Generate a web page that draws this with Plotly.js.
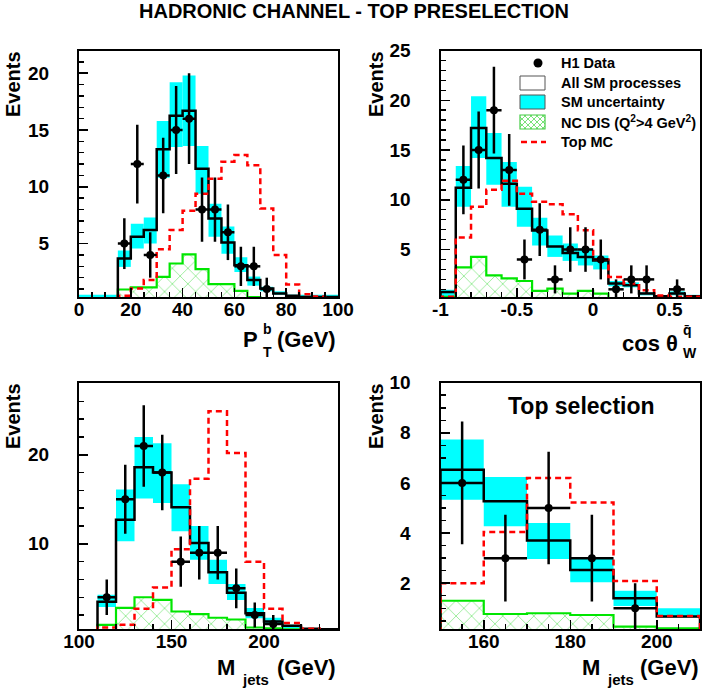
<!DOCTYPE html>
<html>
<head>
<meta charset="utf-8">
<script src="https://cdn.plot.ly/plotly-3.0.1.min.js"></script>
<style>
  body { margin: 0; background: #fff; }
  #plot { width: 708px; height: 694px; }
</style>
</head>
<body>
<div id="plot"></div>
<script>
// ---- panel 1 : P_T^b ----
var edges1 = [0,5,10,15,20,25,30,35,40,45,50,55,60,65,70,75,80,85,90,95,100];
var sm1    = [0,0,0,3.7,5.6,6.2,13.3,16.25,16.7,11.6,7.2,5.1,3.1,1.8,1.05,0.6,0.4,0.3,0.3,0.3];
var hi1    = [0.5,0.5,0.5,4.4,6.75,7.3,15.8,19.2,19.8,13.6,8.5,6.5,3.8,2.1,1.2,0.8,0.5,0.5,0.5,0.5];
var lo1    = [0,0,0,2.95,4.56,5.0,10.8,13.5,13.6,9.4,5.6,4.1,2.5,1.3,0.8,0.5,0.3,0,0,0];
var nc1    = [0,0,0,0.96,1.14,1.14,2.07,3.25,4.06,2.75,1.43,1.43,0.84,0.3,0,0,0,0,0,0];
var top1   = [0,0,0,0.4,1.05,1.8,4.5,6.2,7.9,9.4,10.7,12.2,12.8,11.9,8.1,4.0,1.4,0.55,0.35,0];
var dx1 = [17.5,22.5,27.5,32.5,37.5,42.5,47.5,52.5,57.5,62.5,67.5,72.5];
var dy1 = [5,12,4,11,15,16,8,8,6,3,3,1];
var de1 = [2.24,3.46,2,3.32,3.87,4,2.83,2.83,2.45,1.73,1.73,1];

// ---- panel 2 : cos theta ----
var edges2 = [-1,-0.9,-0.8,-0.7,-0.6,-0.5,-0.4,-0.3,-0.2,-0.1,0,0.1,0.2,0.3,0.4,0.5,0.6,0.7];
var sm2  = [0.74,11.2,17.2,14.2,11.6,9.1,6.9,5.3,4.66,4.26,3.9,1.58,1.4,0.57,0.3,0.57,0.3];
var hi2  = [0.97,13.4,20.4,16.7,13.8,11.3,8.2,6.4,5.6,5.1,4.4,1.84,1.7,0.7,0.4,0.8,0.45];
var lo2  = [0.23,9.3,14.2,11.5,9.3,7.3,5.4,4.26,3.86,3.4,3.0,1.3,1.2,0.4,0.2,0.4,0.2];
var nc2  = [0.25,3.2,4.26,2.4,2.1,1.84,0.84,1.08,0.57,0.84,0.57,0,0,0,0,0,0];
var top2 = [0.25,6.2,9.3,11.0,11.9,10.6,9.8,9.56,8.55,6.94,4.0,2.25,1.58,0.9,0.37,0.25,0.25];
var dx2 = [-0.85,-0.75,-0.65,-0.55,-0.45,-0.35,-0.25,-0.15,-0.05,0.05,0.15,0.25,0.35,0.55];
var dy2 = [12,15,19,13,4,7,2,5,5,4,1,2,2,1];
var de2 = [3.46,3.87,4.36,3.61,2,2.65,1.41,2.24,2.24,2,1,1.41,1.41,1];

// ---- panel 3 : M_jets preselection ----
var edges3 = [110,120,130,140,150,160,170,180,190,200,210,220,230,240];
var sm3  = [3.5,12.7,18.6,18.0,14.1,10.1,6.8,4.5,2.2,1.27,0.8,0.45,0.4];
var hi3  = [4.27,16.1,22.0,21.3,16.7,12.0,8.2,5.5,2.8,1.7,0.9,0.55,0.5];
var lo3  = [2.9,10.3,15.1,14.6,11.4,8.2,5.5,3.7,1.65,0.9,0.5,0.3,0.3];
var nc3  = [0.9,2.8,4.0,3.7,2.4,2.1,1.7,1.5,0.6,0.5,0.4,0,0];
var top3 = [0.6,0.9,2.7,5.1,9.4,17.3,24.9,20.2,8.0,2.7,1.1,0.45,0];
var dx3 = [115,125,135,145,155,165,175,185,195,205];
var dy3 = [4,15,21,18,8,9,9,5,2,1];
var de3 = [2,3.87,4.58,4.24,2.83,3,3,2.24,1.41,1];

// ---- panel 4 : M_jets top selection ----
var edges4 = [150,160,170,180,190,200,210];
var sm4  = [6.53,5.27,3.7,2.53,1.4,0.67];
var hi4  = [7.73,6.24,4.4,3.0,1.7,1.0];
var lo4  = [5.33,4.27,2.97,2.04,1.09,0.63];
var nc4  = [1.3,0.77,0.8,0.73,0.27,0.2];
var top4 = [2.0,4.04,6.2,5.22,2.09,0.69];
var dx4 = [155,165,175,185,195];
var dy4 = [6,3,5,3,1];
var de4 = [2.45,1.73,2.24,1.73,1];

var W = 708, H = 694;
function px(x){ return x / W; }
function py(y){ return 1 - y / H; }

var FONT = 'Liberation Sans, Arial, Helvetica, sans-serif';
var CYAN = '#00ffff', GREEN = '#00e600', RED = '#ff0000';

function stepXY(edges, vals){
  var x = [edges[0]], y = [0];
  for (var i = 0; i < vals.length; i++){ x.push(edges[i]); y.push(vals[i]); }
  x.push(edges[edges.length-1]); y.push(vals[vals.length-1]);
  x.push(edges[edges.length-1]); y.push(0);
  return {x: x, y: y};
}

var data = [];
function panel(edges, sm, lo, hi, nc, top, dx, dy, de, xa, ya){
  var c = [], w = [], d = [];
  for (var i = 0; i < sm.length; i++){
    c.push((edges[i] + edges[i+1]) / 2);
    w.push(edges[i+1] - edges[i]);
    d.push(hi[i] - lo[i]);
  }
  data.push({type:'bar', x:c, y:d, base:lo, width:w, xaxis:xa, yaxis:ya,
    marker:{color:CYAN, line:{width:0}}, showlegend:false, hoverinfo:'skip'});
  data.push({type:'bar', x:c, y:nc, width:w, xaxis:xa, yaxis:ya,
    marker:{color:'rgba(0,0,0,0)', line:{width:0},
      pattern:{shape:'x', fgcolor:'#55e055', bgcolor:'rgba(0,0,0,0)', size:11, solidity:0.1}},
    showlegend:false, hoverinfo:'skip'});
  var g = stepXY(edges, nc);
  data.push({type:'scatter', mode:'lines', x:g.x, y:g.y, xaxis:xa, yaxis:ya,
    line:{color:GREEN, width:2.2, shape:'hv'}, showlegend:false});
  var s = stepXY(edges, sm);
  data.push({type:'scatter', mode:'lines', x:s.x, y:s.y, xaxis:xa, yaxis:ya,
    line:{color:'#000', width:2.5, shape:'hv'}, showlegend:false});
  var t = stepXY(edges, top);
  data.push({type:'scatter', mode:'lines', x:t.x, y:t.y, xaxis:xa, yaxis:ya,
    line:{color:RED, width:2.5, shape:'hv', dash:'6px,4px'}, showlegend:false});
  data.push({type:'scatter', mode:'markers', x:dx, y:dy, xaxis:xa, yaxis:ya,
    marker:{color:'#000', size:8},
    error_y:{type:'data', array:de, color:'#000', thickness:2.5, width:0},
    error_x:{type:'constant', value:w[0]/2, color:'#000', thickness:2.5, width:0},
    showlegend:false});
}

panel(edges1, sm1, lo1, hi1, nc1, top1, dx1, dy1, de1, 'x', 'y');
panel(edges2, sm2, lo2, hi2, nc2, top2, dx2, dy2, de2, 'x2', 'y2');
panel(edges3, sm3, lo3, hi3, nc3, top3, dx3, dy3, de3, 'x3', 'y3');
panel(edges4, sm4, lo4, hi4, nc4, top4, dx4, dy4, de4, 'x4', 'y4');

function ax(dom, anchor, range, dtick, minor, extra){
  var a = {domain:dom, anchor:anchor, range:range, dtick:dtick,
    showline:true, mirror:true, linecolor:'#000', linewidth:2,
    ticks:'inside', ticklen:9, tickwidth:1.5, tickcolor:'#000',
    minor:{dtick:minor, ticks:'inside', ticklen:5, tickwidth:1.5, tickcolor:'#000'},
    showgrid:false, zeroline:false, fixedrange:true,
    tickfont:{family:FONT, size:19, color:'#000', weight:'bold'}};
  for (var k in extra) a[k] = extra[k];
  return a;
}

var xd1 = [px(79), px(338)], xd2 = [px(440.5), px(700)];
var ydT = [py(297), py(50.5)], ydB = [py(629.3), py(382.7)];
var xs = {ticklabelstandoff:-6};
var ys = {ticklabelstandoff:24};

var ann = [];
function txt(x, y, s, size, xa, extra){
  var a = {xref:'paper', yref:'paper', x:px(x), y:py(y), text:s, showarrow:false,
    xanchor:xa || 'center', yanchor:'middle',
    font:{family:FONT, size:size, color:'#000', weight:'bold'}};
  for (var k in extra) a[k] = extra[k];
  ann.push(a);
}
txt(354, 11, 'HADRONIC CHANNEL - TOP PRESELECTION', 20);
// y titles
txt(13, 84, 'Events', 20, 'center', {textangle:-90});
txt(376, 84, 'Events', 20, 'center', {textangle:-90});
txt(13, 416, 'Events', 20, 'center', {textangle:-90});
txt(376, 416, 'Events', 20, 'center', {textangle:-90});
// x titles
txt(260, 340, 'P', 22, 'right');
txt(261, 329, 'b', 14, 'left');
txt(261, 352, 'T', 14, 'left');
txt(338, 340, '(GeV)', 22, 'right');
txt(680, 343, 'cos \u03b8', 22, 'right');
txt(681, 330, 'q\u0304', 14, 'left');
txt(681, 353, 'W', 14, 'left');
txt(237, 667, 'M', 22, 'right');
txt(240, 679, 'jets', 15, 'left');
txt(338, 667, '(GeV)', 22, 'right');
txt(602, 667, 'M', 22, 'right');
txt(605, 679, 'jets', 15, 'left');
txt(701, 667, '(GeV)', 22, 'right');
// panel 4 label
txt(581, 406, 'Top selection', 23);
// legend texts
var legTxt = ['H1 Data', 'All SM processes', 'SM uncertainty',
  'NC DIS (Q<sup>2</sup>>4 GeV<sup>2</sup>)', 'Top MC'];
var legY = [63, 83, 102, 122, 142];
for (var i = 0; i < legTxt.length; i++) txt(559, legY[i], legTxt[i], 14.5, 'left');

function hatchPath(x0, y0, x1, y1, s){
  var d = '', h = y1 - y0;
  for (var c = x0 - h; c < x1; c += s){
    var t0 = Math.max(0, x0 - c), t1 = Math.min(h, x1 - c);
    if (t1 > t0){
      d += 'M' + px(c+t0) + ',' + py(y1-t0) + 'L' + px(c+t1) + ',' + py(y1-t1);
      d += 'M' + px(c+t0) + ',' + py(y0+t0) + 'L' + px(c+t1) + ',' + py(y0+t1);
    }
  }
  return d;
}

var shapes = [
  {type:'circle', xref:'paper', yref:'paper', x0:px(533.5), x1:px(542.5), y0:py(58.5), y1:py(67.5),
    fillcolor:'#000', line:{width:0}},
  {type:'rect', xref:'paper', yref:'paper', x0:px(520), x1:px(545), y0:py(90), y1:py(76),
    fillcolor:'#fff', line:{color:'#555', width:1}},
  {type:'rect', xref:'paper', yref:'paper', x0:px(520), x1:px(545), y0:py(109), y1:py(95),
    fillcolor:CYAN, line:{color:'#555', width:1}},
  {type:'path', xref:'paper', yref:'paper', path:hatchPath(520, 115, 545, 129, 6),
    line:{color:'#55dd55', width:0.8}},
  {type:'rect', xref:'paper', yref:'paper', x0:px(520), x1:px(545), y0:py(129), y1:py(115),
    line:{color:'#44cc44', width:1.2}},
  {type:'line', xref:'paper', yref:'paper', x0:px(521), x1:px(546), y0:py(142), y1:py(142),
    line:{color:RED, width:2.5, dash:'6px,4px'}}
];

var layout = {
  width:W, height:H, margin:{l:0, r:0, t:0, b:0},
  paper_bgcolor:'#fff', plot_bgcolor:'#fff',
  barmode:'overlay', showlegend:false,
  font:{family:FONT, color:'#000'},
  xaxis:  ax(xd1, 'y',  [0, 100], 20, 5, xs),
  yaxis:  ax(ydT, 'x',  [0.3, 22], 5, 1, ys),
  xaxis2: ax(xd2, 'y2', [-1, 0.7], 0.5, 0.1,
            {ticklabelstandoff:-6, tickmode:'array', tickvals:[-1,-0.5,0,0.5], ticktext:['-1','-0.5','0','0.5']}),
  yaxis2: ax(ydT, 'x2', [0.23, 25], 5, 1, ys),
  xaxis3: ax(xd1, 'y3', [100, 240], 50, 10, xs),
  yaxis3: ax(ydB, 'x3', [0.4, 28.1], 10, 2, ys),
  xaxis4: ax(xd2, 'y4', [150, 210], 20, 5, xs),
  yaxis4: ax(ydB, 'x4', [0.16, 10], 2, 0.5, ys),
  annotations:ann,
  shapes:shapes
};

Plotly.newPlot('plot', data, layout, {staticPlot:true, displayModeBar:false});
</script>
</body>
</html>
